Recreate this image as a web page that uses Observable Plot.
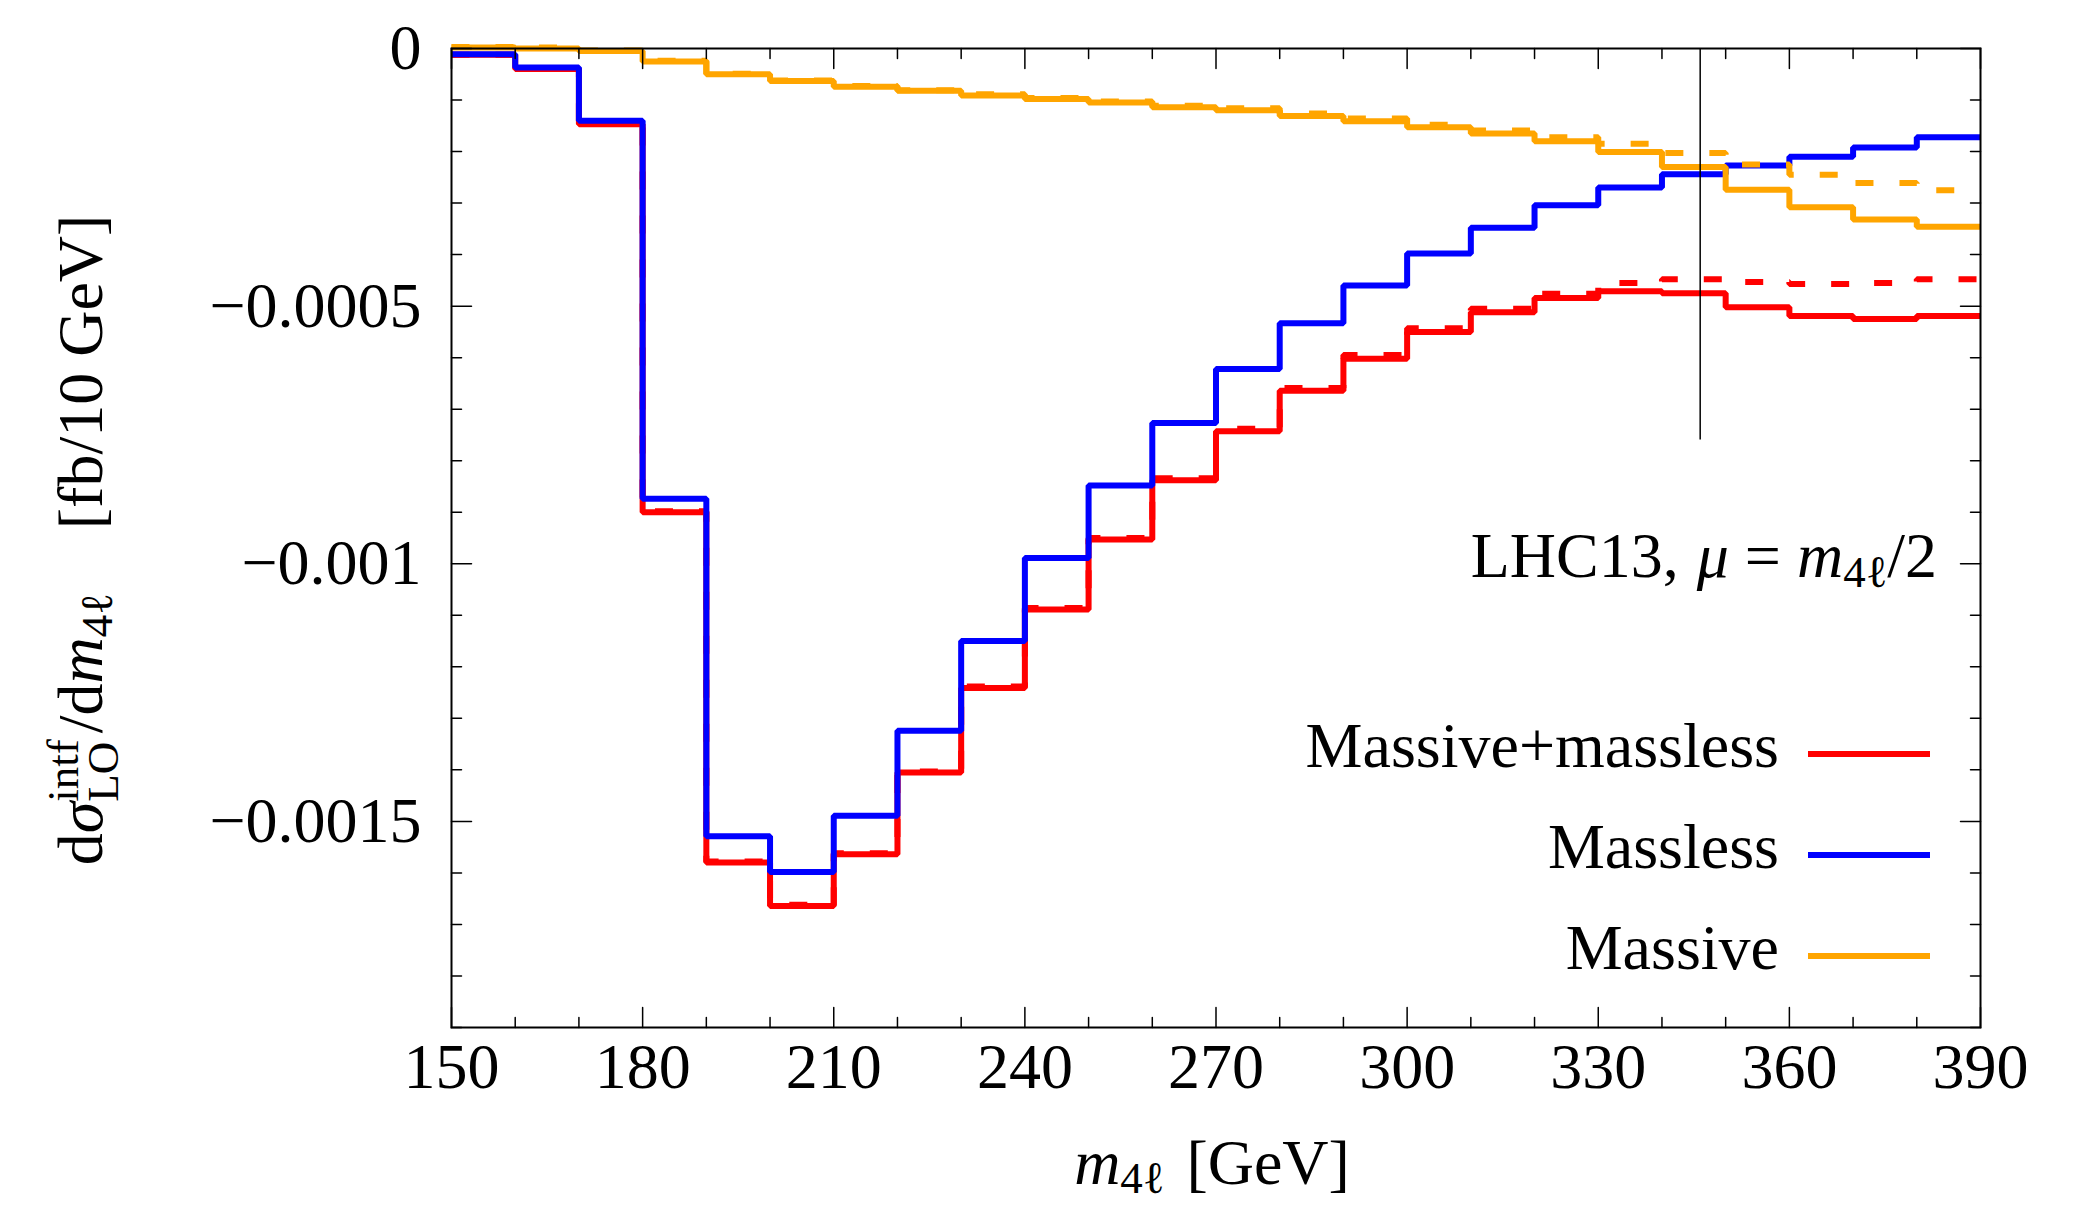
<!DOCTYPE html>
<html><head><meta charset="utf-8">
<script src="https://cdn.jsdelivr.net/npm/d3@7"></script>
<script src="https://cdn.jsdelivr.net/npm/@observablehq/plot@0.6"></script>
<style>html,body{margin:0;padding:0;background:#fff;} svg{display:block;}</style>
</head><body><div id="chart"></div>
<script>
// ---- data ----
const binLo = [150,160,170,180,190,200,210,220,230,240,250,260,270,280,290,300,310,320,330,340,350,360,370,380];
const binHi = 390;
const massiveMassless = [-0.000012,-0.000040,-0.000147,-0.000900,-0.001580,-0.001664,-0.001564,-0.001405,-0.001241,-0.001089,-0.000953,-0.000838,-0.000743,-0.000664,-0.000602,-0.000550,-0.000512,-0.000484,-0.000471,-0.000475,-0.000502,-0.000519,-0.000525,-0.000519];
const massless = [-0.000011,-0.000037,-0.000140,-0.000874,-0.001529,-0.001598,-0.001489,-0.001324,-0.001150,-0.000989,-0.000848,-0.000727,-0.000622,-0.000533,-0.000460,-0.000398,-0.000348,-0.000304,-0.000270,-0.000244,-0.000227,-0.000210,-0.000192,-0.000172];
const massive = [0.000002,0.000000,-0.000005,-0.000025,-0.000050,-0.000063,-0.000074,-0.000082,-0.000091,-0.000098,-0.000105,-0.000114,-0.000120,-0.000131,-0.000141,-0.000153,-0.000165,-0.000180,-0.000201,-0.000230,-0.000274,-0.000308,-0.000332,-0.000346];
const massiveMasslessDashed = [-0.000012,-0.000039,-0.000146,-0.000898,-0.001578,-0.001662,-0.001562,-0.001403,-0.001238,-0.001086,-0.000950,-0.000834,-0.000738,-0.000659,-0.000595,-0.000543,-0.000505,-0.000476,-0.000455,-0.000448,-0.000453,-0.000457,-0.000455,-0.000448];
const massiveDashed = [0.000003,0.000002,-0.000004,-0.000024,-0.000049,-0.000062,-0.000073,-0.000081,-0.000089,-0.000096,-0.000103,-0.000111,-0.000116,-0.000126,-0.000136,-0.000148,-0.000159,-0.000172,-0.000185,-0.000203,-0.000225,-0.000245,-0.000261,-0.000275];
const thresholdX = 346;
const thresholdTop = 0;
const thresholdBottom = -0.00076;
const xMajor = [150,180,210,240,270,300,330,360,390];
const xMinor = [160,170,190,200,220,230,250,260,280,290,310,320,340,350,370,380];
const yMajor = [0,-0.0005,-0.001,-0.0015];
const yMinor = [-0.0001,-0.0002,-0.0003,-0.0004,-0.0006,-0.0007,-0.0008,-0.0009,-0.0011,-0.0012,-0.0013,-0.0014,-0.0016,-0.0017,-0.0018,-0.0019];
const seriesNames = ["Massive+massless","Massless","Massive"];
const seriesColors = ["#ff0000","#0000ff","#ffa500"];

// ---- build ----
const FONT = '"Liberation Serif","Times New Roman",serif';
const steps = vals => binLo.map((x,i)=>({x, y: vals[i]})).concat([{x: binHi, y: vals[vals.length-1]}]);
const lineOpts = (c, dash) => ({x:"x", y:"y", curve:"step-after", stroke:c, strokeWidth:6, strokeLinejoin:"miter", strokeLinecap:"butt", strokeDasharray: dash});
const tick = (data, ch, anchor, rot, len) => Plot.vector(data, {[ch]: d=>d, frameAnchor: anchor, rotate: rot, length: len, anchor:"start", r:0, stroke:"black", strokeWidth:1.5});
const fmtY = d => d === 0 ? "0" : "\u2212" + String(Math.abs(d));

const chart = Plot.plot({
  width: 2090, height: 1207,
  marginLeft: 451, marginRight: 110, marginTop: 48, marginBottom: 180,
  x: {domain: [150, 390]},
  y: {domain: [-0.0019, 0]},
  style: {fontFamily: FONT, background: "white", color: "black"},
  marks: [
    Plot.line(steps(massiveMasslessDashed), lineOpts(seriesColors[0], "18,26")),
    Plot.line(steps(massiveMassless), lineOpts(seriesColors[0])),
    Plot.line(steps(massless), lineOpts(seriesColors[1])),
    Plot.line(steps(massiveDashed), lineOpts(seriesColors[2], "18,26")),
    Plot.line(steps(massive), lineOpts(seriesColors[2])),
    Plot.ruleX([thresholdX], {x: d=>d, y1: () => thresholdTop, y2: () => thresholdBottom, stroke:"black", strokeWidth:1.5}),
    Plot.frame({stroke:"black", strokeWidth:2}),
    tick(xMajor, "x", "bottom", 0, 20), tick(xMinor, "x", "bottom", 0, 10),
    tick(xMajor, "x", "top", 180, 20), tick(xMinor, "x", "top", 180, 10),
    tick(yMajor, "y", "left", 90, 20), tick(yMinor, "y", "left", 90, 10),
    tick(yMajor, "y", "right", -90, 20), tick(yMinor, "y", "right", -90, 10),
    Plot.axisX(xMajor, {anchor:"bottom", tickSize:0, tickPadding:15, fontSize:64, label:null, tickFormat: d=>String(d)}),
    Plot.axisY(yMajor, {anchor:"left", tickSize:0, tickPadding:30, fontSize:64, label:null, tickFormat: fmtY})
  ]
});
document.getElementById("chart").appendChild(chart);

// ---- rich text annotations ----
const svg = d3.select(chart);
const mctx = document.createElement("canvas").getContext("2d");
function tw(t, size, it){ mctx.font = `${it?"italic ":""}${size}px "Liberation Serif"`; return mctx.measureText(t).width; }
function rich(parent, runs, x0, y0, anchor) {
  const lay = []; let prevStart = 0, end = 0;
  for (const r of runs) {
    const w = tw(r.t, r.s, r.it);
    const start = r.stack ? prevStart : end + (r.gap || 0);
    lay.push({...r, x: start});
    prevStart = start; end = Math.max(end, start + w);
  }
  const off = anchor === "end" ? -end : anchor === "middle" ? -end/2 : 0;
  const g = parent.append("g").attr("text-anchor", "start");
  for (const l of lay) g.append("text").attr("x", x0 + off + l.x).attr("y", y0 + (l.dy||0))
    .attr("text-anchor", "start")
    .attr("font-family", FONT).attr("font-size", l.s).attr("font-style", l.it ? "italic" : "normal")
    .attr("fill","black").text(l.t);
  return g;
}
const S = 64, s = 45;
// x label
rich(svg, [{t:"m",s:S,it:true},{t:"4\u2113",s:s,dy:9},{t:"[GeV]",s:S,gap:22}], 1212, 1184, "middle");
// y label
const yl = svg.append("g").attr("transform","translate(102,540) rotate(-90)");
rich(yl, [{t:"d",s:S},{t:"\u03c3",s:S,it:true},{t:"intf",s:s,dy:-24},{t:"LO",s:s,dy:16,stack:true},{t:"/d",s:S,gap:6},{t:"m",s:S,it:true},{t:"4\u2113",s:s,dy:10},{t:"[fb/10 GeV]",s:S,gap:64}], 0, 0, "middle");
// annotation
rich(svg, [{t:"LHC13,",s:S},{t:"\u03bc",s:S,it:true,gap:18},{t:"=",s:S,gap:16},{t:"m",s:S,it:true,gap:16},{t:"4\u2113",s:s,dy:10},{t:"/2",s:S}], 1937, 577, "end");
// legend
const legY = [754, 855, 956];
seriesNames.forEach((n, i) => {
  svg.append("text").attr("x", 1779).attr("y", legY[i] + 13).attr("text-anchor","end")
    .attr("font-family", FONT).attr("font-size", S).attr("fill","black").text(n);
  svg.append("line").attr("x1", 1808).attr("x2", 1930).attr("y1", legY[i]).attr("y2", legY[i])
    .attr("stroke", seriesColors[i]).attr("stroke-width", 6);
});
</script></body></html>
